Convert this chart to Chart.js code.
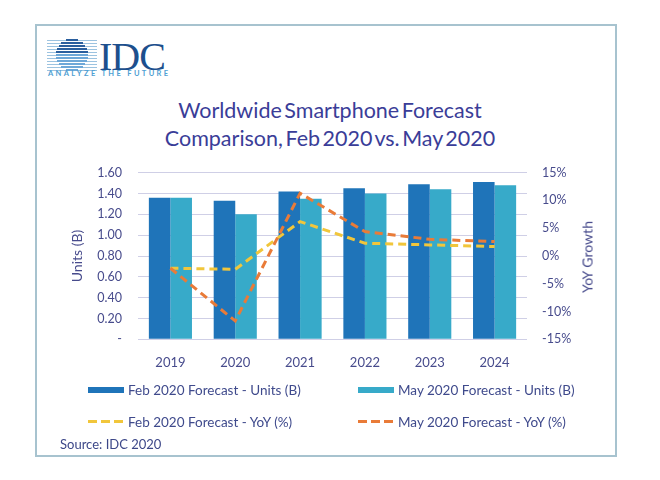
<!DOCTYPE html>
<html>
<head>
<meta charset="utf-8">
<script src="https://cdn.jsdelivr.net/npm/chart.js@4/dist/chart.umd.min.js"></script>
<style>
  html, body { margin:0; padding:0; background:#fff; }
  body { width:660px; height:480px; position:relative; overflow:hidden; font-family:Lato, "Open Sans", sans-serif; }
  #card { position:absolute; left:35px; top:24px; width:582px; height:433px; border:2px solid #a7c3cf; box-sizing:border-box; }
  #c { position:absolute; left:0; top:0; }
  .ov { position:absolute; white-space:nowrap; }
  #title { left:0; width:660px; top:96px; text-align:center; font-size:21.5px; line-height:28px; color:#3a3d98; word-spacing:-3px; }
  #idc { left:99px; top:33px; font-family:"Liberation Serif","DejaVu Serif",serif; font-size:40px; color:#1d4f8d; letter-spacing:-1px; }
  #tag { left:48px; top:69px; font-size:7.5px; font-weight:bold; letter-spacing:2.35px; color:#4f9fd3; }
  #globe { left:47px; top:40px; width:50px; height:32px; }
  #yoy { left:587px; top:257px; transform:translate(-50%,-50%) rotate(-90deg); font-size:14px; color:#474b8c; }
  #source { left:60px; top:436px; font-size:13px; color:#3c4788; }
  .leg { position:absolute; display:flex; align-items:center; font-size:13.5px; color:#3f4a8c; white-space:nowrap; }
  .sw { width:36px; margin-right:4px; }
</style>
</head>
<body>
<div id="card"></div>
<div id="globe" class="ov"></div>
<div id="idc" class="ov">IDC</div>
<div id="tag" class="ov">ANALYZE THE FUTURE</div>
<div id="title" class="ov">Worldwide Smartphone Forecast<br>Comparison, Feb 2020 vs. May 2020</div>
<canvas id="c" width="660" height="480"></canvas>
<div id="yoy" class="ov">YoY Growth</div>
<div id="legend"></div>
<div id="source" class="ov">Source: IDC 2020</div>
<script>
// ---- data ----
const categories = ['2019', '2020', '2021', '2022', '2023', '2024'];
const febUnits = [1.36, 1.33, 1.42, 1.45, 1.49, 1.51];
const mayUnits = [1.36, 1.20, 1.35, 1.40, 1.44, 1.48];
const febYoY = [-2.2, -2.4, 6.2, 2.3, 2.0, 1.7];
const mayYoY = [-2.2, -11.7, 11.3, 4.4, 3.0, 2.6];
const seriesNames = ['Feb 2020 Forecast - Units (B)', 'May 2020 Forecast - Units (B)', 'Feb 2020 Forecast - YoY (%)', 'May 2020 Forecast - YoY (%)'];
const unitTickLabels = ['-', '0.20', '0.40', '0.60', '0.80', '1.00', '1.20', '1.40', '1.60'];
const yoyTickLabels = ['-15%', '-10%', '-5%', '0%', '5%', '10%', '15%'];

const colFeb = '#1f74b9', colMay = '#37aac9', colFebL = '#f1c63b', colMayL = '#e97b38';
const tickColor = '#474b8c';
const fontFam = 'Lato, "Open Sans", sans-serif';

// globe logo (decorative)
(function(){
  const g = document.getElementById('globe');
  let html = '';
  const stripes = [0,3,6,9,12,15,18,21,24,27,30];
  stripes.forEach((y,i)=>{
    const half = Math.sqrt(Math.max(0, 16*16 - (y-15)*(y-15)));
    html += '<div style="position:absolute;left:0;top:'+y+'px;width:50px;height:1px;background:#9cc3e0"></div>';
    html += '<div style="position:absolute;left:'+(25-half)+'px;top:'+(y-1)+'px;width:'+(2*half)+'px;height:2px;background:'+(i<5?'#2a5f9e':'#6ea8d8')+'"></div>';
  });
  g.innerHTML = html;
})();

const chart = new Chart(document.getElementById('c'), {
  data: {
    labels: categories,
    datasets: [
      { type:'line', label: seriesNames[3], data: mayYoY, yAxisID:'y1', borderColor: colMayL, borderWidth:3, borderDash:[8,5], pointRadius:0, fill:false, tension:0, order:0 },
      { type:'line', label: seriesNames[2], data: febYoY, yAxisID:'y1', borderColor: colFebL, borderWidth:3, borderDash:[8,5], pointRadius:0, fill:false, tension:0, order:1 },
      { type:'bar', label: seriesNames[0], data: febUnits, yAxisID:'y', backgroundColor: colFeb, order:2, categoryPercentage:0.665, barPercentage:1.0 },
      { type:'bar', label: seriesNames[1], data: mayUnits, yAxisID:'y', backgroundColor: colMay, order:3, categoryPercentage:0.665, barPercentage:1.0 }
    ]
  },
  options: {
    responsive:false,
    animation:false,
    layout: { padding: { left:60, right:40, top:172.7, bottom:110.7 } },
    plugins: { legend:{ display:false }, tooltip:{ enabled:false }, title:{ display:false } },
    scales: {
      x: {
        grid:{ display:false }, border:{ display:false },
        ticks:{ color:tickColor, font:{ family:fontFam, size:13 }, padding:8 },
        afterFit(s){ s.height = 30; }
      },
      y: {
        position:'left', min:0, max:1.6,
        grid:{ color:'#cfcfe6', lineWidth:1, drawTicks:false }, border:{ display:false },
        ticks:{ stepSize:0.2, color:tickColor, font:{ family:fontFam, size:12.5 }, padding:16,
          callback:(v,i)=> unitTickLabels[i] },
        title:{ display:true, text:'Units (B)', color:tickColor, font:{ family:fontFam, size:14 }, padding:{ top:9 } },
        afterFit(s){ s.width = 78; }
      },
      y1: {
        position:'right', min:-15, max:15,
        grid:{ display:false, drawTicks:false }, border:{ display:false },
        ticks:{ stepSize:5, color:tickColor, font:{ family:fontFam, size:12.5 }, padding:15,
          callback:(v,i)=> yoyTickLabels[i] },
        afterFit(s){ s.width = 93; }
      }
    }
  }
});

// legend built from chart datasets
(function(){
  const leg = document.getElementById('legend');
  const pos = [[88,389.5],[358,389.5],[88,421.7],[358,421.7]];
  const order = [seriesNames[0], seriesNames[1], seriesNames[2], seriesNames[3]];
  order.forEach((name,i)=>{
    const ds = chart.data.datasets.find(d=>d.label===name);
    const el = document.createElement('div');
    el.className = 'leg';
    el.style.left = pos[i][0]+'px';
    el.style.top = (pos[i][1]-9)+'px';
    el.style.height = '18px';
    const sw = document.createElement('div');
    sw.className = 'sw';
    if (ds.type === 'bar') {
      sw.style.height = '6px';
      sw.style.background = ds.backgroundColor;
    } else {
      sw.style.height = '3px';
      sw.style.background = 'repeating-linear-gradient(to right,'+ds.borderColor+' 0 9px, transparent 9px 13px)';
    }
    const tx = document.createElement('span');
    tx.textContent = name;
    el.appendChild(sw); el.appendChild(tx);
    leg.appendChild(el);
  });
})();
</script>
</body>
</html>
